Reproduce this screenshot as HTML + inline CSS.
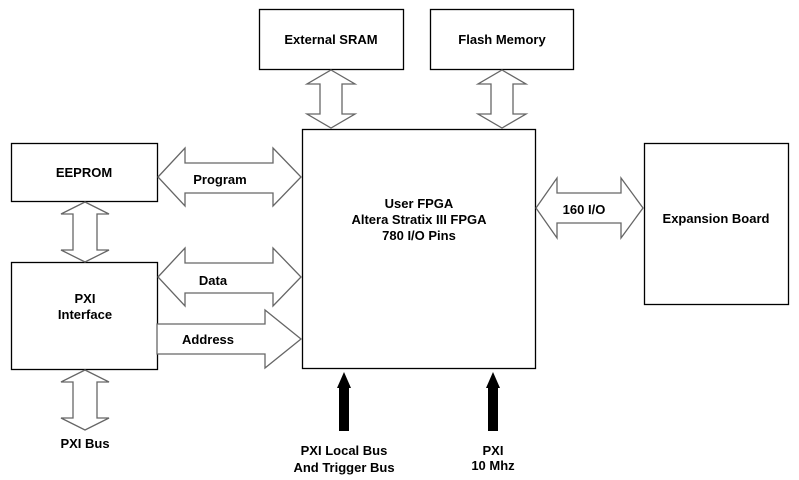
<!DOCTYPE html>
<html><head><style>
body{margin:0;background:#fff;}
svg{display:block;}
text{font-family:"Liberation Sans",Arial,sans-serif;font-weight:bold;font-size:13px;fill:#000;text-anchor:middle;}
</style></head><body>
<svg width="799" height="480" viewBox="0 0 799 480" xmlns="http://www.w3.org/2000/svg">
<g fill="#fff" stroke="#000" stroke-width="1.3">
<rect x="259.5" y="9.5" width="144" height="60"/>
<rect x="430.5" y="9.5" width="143" height="60"/>
<rect x="302.5" y="129.5" width="233" height="239"/>
<rect x="11.5" y="143.5" width="146" height="58"/>
<rect x="11.5" y="262.5" width="146" height="107"/>
<rect x="644.5" y="143.5" width="144" height="161"/>
</g>
<g fill="#fff" stroke="#666" stroke-width="1.3">
<!-- vertical double arrows -->
<path d="M331,70 L355,84 L342,84 L342,114 L355,114 L331,128 L307,114 L320,114 L320,84 L307,84 Z"/>
<path d="M502,70 L526,84 L513,84 L513,114 L526,114 L502,128 L478,114 L491,114 L491,84 L478,84 Z"/>
<path d="M85,202 L109,214 L97,214 L97,250 L109,250 L85,262 L61,250 L73,250 L73,214 L61,214 Z"/>
<path d="M85,370 L109,382 L97,382 L97,418 L109,418 L85,430 L61,418 L73,418 L73,382 L61,382 Z"/>
<!-- horizontal double arrows -->
<path d="M158,177 L185,148 L185,163 L273,163 L273,148 L301,177 L273,206 L273,193 L185,193 L185,206 Z"/>
<path d="M158,277 L185,248 L185,263 L273,263 L273,248 L301,277 L273,306 L273,293 L185,293 L185,306 Z"/>
<path d="M536,208 L557,178 L557,193 L621,193 L621,178 L643,208 L621,238 L621,223 L557,223 L557,238 Z"/>
<!-- address -->
<path d="M157,324 L265,324 L265,310 L301,339 L265,368 L265,354 L157,354 Z"/>
</g>
<g fill="#000">
<path d="M339,431 L339,388 L337,388 L344,372 L351,388 L349,388 L349,431 Z"/>
<path d="M488,431 L488,388 L486,388 L493,372 L500,388 L498,388 L498,431 Z"/>
</g>
<text x="331" y="44">External SRAM</text>
<text x="502" y="44">Flash Memory</text>
<text x="84" y="177">EEPROM</text>
<text x="85" y="303">PXI</text>
<text x="85" y="319">Interface</text>
<text x="220" y="184">Program</text>
<text x="213" y="285">Data</text>
<text x="208" y="344">Address</text>
<text x="419" y="208">User FPGA</text>
<text x="419" y="224">Altera Stratix III FPGA</text>
<text x="419" y="240">780 I/O Pins</text>
<text x="584" y="214">160 I/O</text>
<text x="716" y="223">Expansion Board</text>
<text x="85" y="448">PXI Bus</text>
<text x="344" y="455">PXI Local Bus</text>
<text x="344" y="472">And Trigger Bus</text>
<text x="493" y="455">PXI</text>
<text x="493" y="470">10 Mhz</text>
</svg>
</body></html>
